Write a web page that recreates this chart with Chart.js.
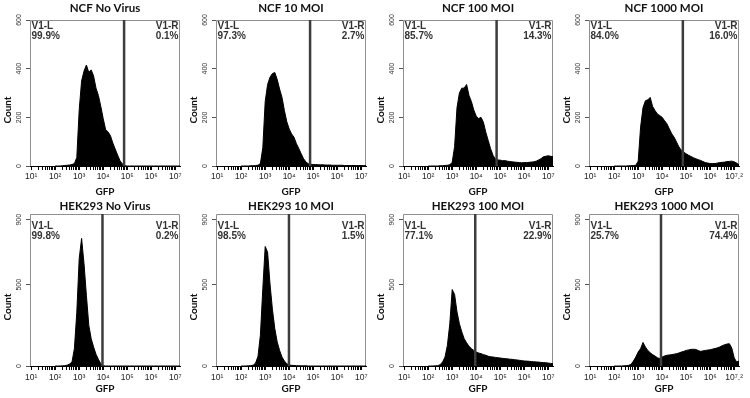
<!DOCTYPE html>
<html lang="en">
<head>
    <meta charset="UTF-8">
    <title>GFP histograms - NCF and HEK293</title>
    <style>
        body {
            margin: 0;
            background: #fff;
            width: 750px;
            height: 398px;
            overflow: hidden;
            position: relative;
        }
        canvas {
            position: absolute;
        }
    </style>
</head>
<body>
    <canvas id="c0" width="192" height="198" style="left:0px;top:0px"></canvas>
    <canvas id="c1" width="192" height="198" style="left:186px;top:0px"></canvas>
    <canvas id="c2" width="192" height="198" style="left:373px;top:0px"></canvas>
    <canvas id="c3" width="191" height="198" style="left:559px;top:0px"></canvas>
    <canvas id="c4" width="192" height="200" style="left:0px;top:198px"></canvas>
    <canvas id="c5" width="192" height="200" style="left:186px;top:198px"></canvas>
    <canvas id="c6" width="192" height="200" style="left:373px;top:198px"></canvas>
    <canvas id="c7" width="191" height="200" style="left:559px;top:198px"></canvas>

    <script src="https://cdn.jsdelivr.net/npm/chart.js"></script>
    <script>
        // log10(GFP) bin centres shared by every histogram
        const gfpBins = [
            2.0, 2.1, 2.2, 2.3, 2.4, 2.5, 2.6, 2.7, 2.8, 2.9,
            3.0, 3.1, 3.2, 3.3, 3.4, 3.5, 3.6, 3.7, 3.8, 3.9,
            4.0, 4.1, 4.2, 4.3, 4.4, 4.5, 4.6, 4.7, 4.8, 4.9,
            5.0, 5.1, 5.2, 5.3, 5.4, 5.5, 5.6, 5.7, 5.8, 5.9,
            6.0, 6.1, 6.2, 6.3, 6.4, 6.5, 6.6, 6.7, 6.8, 6.9,
            7.0, 7.1, 7.2
        ];

        // counts per bin
        const ncfNoVirus = [
            0, 0, 0, 1, 2, 3, 4, 6, 10, 35,
            230, 350, 390, 415, 385, 395, 370, 320, 290, 245,
            195, 150, 140, 125, 95, 70, 45, 22, 8, 1,
            0, 0, 0, 0, 0, 0, 0, 0, 0, 0,
            0, 0, 0, 0, 0, 0, 0, 0, 0, 0,
            0, 0, 0
        ];
        const ncf10Moi = [
            0, 0, 0, 0, 1, 1, 2, 3, 10, 75,
            265, 335, 365, 380, 384, 356, 316, 282, 228, 182,
            152, 132, 118, 92, 72, 50, 30, 16, 9, 7,
            6, 6, 5, 5, 5, 4, 4, 4, 3, 3,
            3, 3, 3, 2, 2, 2, 2, 2, 2, 2,
            2, 2, 1
        ];
        const ncf100Moi = [
            0, 0, 0, 0, 0, 1, 1, 2, 3, 5,
            15, 80, 240, 300, 320, 320, 335, 290, 265, 230,
            205, 195, 200, 180, 139, 105, 71, 44, 28, 25,
            24, 22, 22, 20, 18, 17, 16, 15, 14, 13,
            14, 14, 15, 16, 17, 20, 25, 30, 38, 40,
            42, 40, 38
        ];
        const ncf1000Moi = [
            0, 0, 0, 0, 0, 0, 1, 1, 2, 3,
            20, 160, 240, 268, 272, 282, 245, 228, 214, 207,
            200, 186, 173, 152, 132, 118, 98, 78, 64, 57,
            50, 44, 39, 34, 30, 26, 23, 18, 14, 12,
            10, 10, 10, 12, 14, 15, 16, 18, 19, 20,
            17, 12, 5
        ];
        const hekNoVirus = [
            0, 0, 0, 1, 2, 5, 12, 25, 107, 330,
            660, 785, 630, 435, 250, 168, 117, 72, 41, 14,
            2, 0, 0, 0, 0, 0, 0, 0, 0, 0,
            0, 0, 0, 0, 0, 0, 0, 0, 0, 0,
            0, 0, 0, 0, 0, 0, 0, 0, 0, 0,
            0, 0, 0
        ];
        const hek10Moi = [
            0, 0, 0, 1, 2, 5, 18, 60, 190, 475,
            735, 700, 505, 350, 230, 148, 96, 55, 31, 14,
            6, 4, 3, 2, 2, 1, 1, 1, 0, 0,
            0, 0, 0, 0, 0, 0, 0, 0, 0, 0,
            0, 0, 0, 0, 0, 0, 0, 0, 0, 0,
            0, 0, 0
        ];
        const hek100Moi = [
            0, 0, 0, 1, 2, 8, 25, 55, 127, 260,
            470, 440, 332, 260, 209, 168, 143, 121, 107, 96,
            86, 80, 76, 70, 66, 60, 57, 55, 53, 51,
            49, 47, 45, 44, 42, 41, 39, 37, 35, 33,
            31, 30, 29, 27, 26, 25, 24, 22, 21, 20,
            18, 16, 14
        ];
        const hek1000Moi = [
            0, 0, 0, 0, 1, 2, 4, 10, 30, 55,
            86, 107, 145, 117, 96, 82, 70, 61, 51, 45,
            55, 62, 66, 68, 70, 73, 76, 80, 86, 90,
            96, 99, 102, 103, 102, 95, 90, 93, 96, 98,
            100, 104, 107, 112, 117, 125, 131, 135, 137, 110,
            50, 25, 30
        ];

        const panelTitles = [
            'NCF No Virus', 'NCF 10 MOI', 'NCF 100 MOI', 'NCF 1000 MOI',
            'HEK293 No Virus', 'HEK293 10 MOI', 'HEK293 100 MOI', 'HEK293 1000 MOI'
        ];
        const leftPercent = ['99.9%', '97.3%', '85.7%', '84.0%', '99.8%', '98.5%', '77.1%', '25.7%'];
        const rightPercent = ['0.1%', '2.7%', '14.3%', '16.0%', '0.2%', '1.5%', '22.9%', '74.4%'];
        const gatePositions = [4.87, 4.87, 4.85, 4.86, 3.97, 3.99, 3.96, 3.95];

        const decades = [1, 2, 3, 4, 5, 6, 7];
        const decadeLabels = ['10¹', '10²', '10³', '10⁴', '10⁵', '10⁶', '10⁷'];
        const decadeLabelsEnd = ['10¹', '10²', '10³', '10⁴', '10⁵', '10⁶', '10⁷.²'];
        const countTicksNcf = [0, 200, 400, 600];
        const countTicksHek = [0, 500, 900];

        const panelCounts = [ncfNoVirus, ncf10Moi, ncf100Moi, ncf1000Moi,
                             hekNoVirus, hek10Moi, hek100Moi, hek1000Moi];

        // per-row axis setup (top row NCF, bottom row HEK293)
        const rows = [
            { yMax: 600, yTicks: countTicksNcf, titlePad: { top: 2, bottom: 5 }, tickPad: 2, gfpPad: 0 },
            { yMax: 935, yTicks: countTicksHek, titlePad: { top: 2, bottom: 1 }, tickPad: 3, gfpPad: 3 }
        ];

        Chart.defaults.font.family = "'Liberation Sans', Arial, sans-serif";
        Chart.defaults.color = '#222';

        // frame, gate line, V1-L / V1-R readouts and the Count caption
        const gatePlugin = {
            id: 'gate',
            beforeDatasetsDraw(chart) {
                const { ctx, chartArea: a } = chart;
                ctx.save();
                ctx.strokeStyle = '#8f8f8f';
                ctx.lineWidth = 1;
                ctx.beginPath();
                ctx.moveTo(a.left + 0.5, a.bottom);
                ctx.lineTo(a.left + 0.5, a.top + 0.5);
                ctx.lineTo(a.right - 0.5, a.top + 0.5);
                ctx.lineTo(a.right - 0.5, a.bottom);
                ctx.stroke();
                ctx.restore();
            },
            afterDatasetsDraw(chart, args, opts) {
                const { ctx, chartArea: a } = chart;
                const gx = chart.scales.x.getPixelForValue(opts.gate);
                const yTop = chart.scales.y.getPixelForValue(opts.topTick);
                ctx.save();
                ctx.strokeStyle = '#3d3d3d';
                ctx.lineWidth = 2.5;
                ctx.beginPath();
                ctx.moveTo(gx, a.top);
                ctx.lineTo(gx, a.bottom);
                ctx.stroke();

                ctx.fillStyle = '#333';
                ctx.font = "bold 10px 'Liberation Sans'";
                ctx.textAlign = 'left';
                ctx.fillText('V1-L', a.left + 1.5, yTop + 9);
                ctx.fillText(opts.left, a.left + 1.5, yTop + 19);
                ctx.textAlign = 'right';
                ctx.fillText('V1-R', a.right - 1.5, yTop + 9);
                ctx.fillText(opts.right, a.right - 1.5, yTop + 19);

                // the caption sits a bit below the middle in the original
                ctx.fillStyle = '#111';
                ctx.font = 'bold 10px Lato';
                ctx.translate(8, (a.top + a.bottom) / 2 + 17);
                ctx.rotate(-Math.PI / 2);
                ctx.textAlign = 'center';
                ctx.textBaseline = 'middle';
                ctx.fillText('Count', 0, 0);
                ctx.restore();
            }
        };

        panelCounts.forEach((counts, i) => {
            const row = rows[i < 4 ? 0 : 1];
            const labels = (i % 4 === 3) ? decadeLabelsEnd : decadeLabels;

            new Chart(document.getElementById('c' + i), {
                type: 'line',
                data: {
                    datasets: [{
                        data: gfpBins.map((b, k) => ({ x: b, y: counts[k] })),
                        fill: 'origin',
                        backgroundColor: '#000',
                        borderColor: '#000',
                        borderWidth: 1,
                        pointRadius: 0,
                        tension: 0
                    }]
                },
                options: {
                    responsive: false,
                    animation: false,
                    events: [],
                    layout: { padding: { left: 0, right: i % 4 === 3 ? 11 : 12, top: 0, bottom: 0 } },
                    plugins: {
                        legend: { display: false },
                        tooltip: { enabled: false },
                        title: {
                            display: true,
                            text: panelTitles[i],
                            fullSize: false,
                            color: '#111',
                            font: { family: 'Lato', size: 11.5, weight: 'bold', lineHeight: '13px' },
                            padding: row.titlePad
                        },
                        gate: {
                            gate: gatePositions[i],
                            topTick: row.yTicks[row.yTicks.length - 1],
                            left: leftPercent[i],
                            right: rightPercent[i]
                        }
                    },
                    scales: {
                        x: {
                            type: 'linear',
                            min: 0.95,
                            max: 7.2,
                            afterBuildTicks(scale) {
                                const t = [];
                                decades.forEach(d => {
                                    t.push({ value: d });
                                    if (d < 7) {
                                        for (let m = 2; m < 10; m++) t.push({ value: d + Math.log10(m) });
                                    }
                                });
                                scale.ticks = t;
                            },
                            afterFit(scale) { scale.height = 32; },
                            ticks: {
                                autoSkip: false,
                                maxRotation: 0,
                                padding: row.tickPad,
                                color: '#222',
                                font: { size: 8.5 },
                                callback(value) {
                                    const k = decades.indexOf(value);
                                    return k >= 0 ? labels[k] : '';
                                }
                            },
                            grid: { drawOnChartArea: false, drawTicks: true, tickLength: 4, color: '#000' },
                            border: { display: true, color: '#000', width: 1 },
                            title: {
                                display: true,
                                text: 'GFP',
                                color: '#111',
                                font: { family: 'Lato', size: 10, weight: 'bold', lineHeight: '12px' },
                                padding: { top: 0, bottom: row.gfpPad }
                            }
                        },
                        y: {
                            min: 0,
                            max: row.yMax,
                            afterBuildTicks(scale) {
                                scale.ticks = row.yTicks.map(v => ({ value: v }));
                            },
                            afterFit(scale) { scale.width = 30; },
                            ticks: {
                                autoSkip: false,
                                minRotation: 90,
                                maxRotation: 90,
                                crossAlign: 'center',
                                padding: 1,
                                color: '#333',
                                font: { size: 7 }
                            },
                            grid: { drawOnChartArea: false, tickLength: 4, color: '#555' },
                            border: { display: false }
                        }
                    }
                },
                plugins: [gatePlugin]
            });
        });
    </script>
</body>
</html>
